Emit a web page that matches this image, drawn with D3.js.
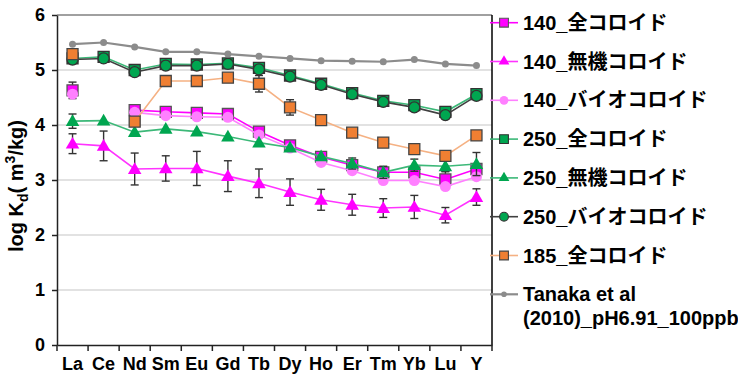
<!DOCTYPE html>
<html>
<head>
<meta charset="utf-8">
<script src="https://cdn.jsdelivr.net/npm/d3@7"></script>
<style>
  body { margin: 0; background: #fff; }
  text { font-family: Arial, "Liberation Sans", "Noto Sans CJK JP", sans-serif; font-weight: bold; }
</style>
</head>
<body>
<div id="chart"></div>
<script>
const elements = ['La', 'Ce', 'Nd', 'Sm', 'Eu', 'Gd', 'Tb', 'Dy', 'Ho', 'Er', 'Tm', 'Yb', 'Lu', 'Y']
const yTicks = [0, 1, 2, 3, 4, 5, 6]

const s140All = [4.63, null, 4.27, 4.24, 4.22, 4.2, 3.88, 3.63, 3.42, 3.27, 3.14, 3.14, 3.01, 3.2]
const s140AllErr = [0.15, 0, 0, 0, 0, 0, 0, 0, 0, 0, 0, 0, 0.15, 0]
const s140Inorg = [3.66, 3.62, 3.2, 3.21, 3.21, 3.07, 2.94, 2.78, 2.64, 2.55, 2.49, 2.51, 2.36, 2.69]
const s140InorgErr = [0.18, 0.27, 0.29, 0.23, 0.31, 0.28, 0.26, 0.24, 0.19, 0.19, 0.17, 0.21, 0.14, 0.15]
const s140Bio = [4.56, null, 4.23, 4.17, 4.15, 4.14, 3.82, 3.58, 3.32, 3.17, 2.99, 2.99, 2.88, 3.06]
const s250All = [5.21, 5.24, 5.0, 5.11, 5.1, 5.12, 5.04, 4.9, 4.75, 4.58, 4.44, 4.36, 4.24, 4.56]
const s250Inorg = [4.07, 4.08, 3.87, 3.93, 3.88, 3.79, 3.68, 3.59, 3.43, 3.3, 3.14, 3.27, 3.25, 3.29]
const s250InorgErr = [0.13, 0, 0, 0, 0, 0, 0, 0, 0, 0.1, 0.11, 0.11, 0.1, 0.21]
const s250Bio = [5.19, 5.21, 4.96, 5.08, 5.08, 5.11, 5.01, 4.88, 4.73, 4.56, 4.42, 4.32, 4.18, 4.53]
const s185All = [5.29, null, 4.06, 4.8, 4.8, 4.86, 4.75, 4.32, 4.09, 3.86, 3.68, 3.56, 3.44, 3.81]
const s185AllErr = [0, 0, 0, 0, 0, 0, 0.15, 0.14, 0, 0, 0, 0, 0, 0]
const tanaka = [5.47, 5.5, 5.42, 5.33, 5.33, 5.29, 5.25, 5.21, 5.17, 5.16, 5.15, 5.19, 5.11, 5.08]

const series = [
  { name: ['140_全コロイド'], values: s140All, err: s140AllErr, shape: 'square', fill: '#ff00ff', stroke: '#555', line: '#ff00ff', size: 11 },
  { name: ['140_無機コロイド'], values: s140Inorg, err: s140InorgErr, shape: 'triangle', fill: '#ff00ff', stroke: 'none', line: '#ff33ff', size: 12 },
  { name: ['140_バイオコロイド'], values: s140Bio, err: null, shape: 'circle', fill: '#ff80ff', stroke: 'none', line: '#ff80ff', size: 11 },
  { name: ['250_全コロイド'], values: s250All, err: null, shape: 'square', fill: '#00a650', stroke: '#333', line: '#3cb878', size: 11 },
  { name: ['250_無機コロイド'], values: s250Inorg, err: s250InorgErr, shape: 'triangle', fill: '#00a650', stroke: 'none', line: '#3cb878', size: 12 },
  { name: ['250_バイオコロイド'], values: s250Bio, err: null, shape: 'circle', fill: '#00a650', stroke: '#333', line: '#404040', size: 11 },
  { name: ['185_全コロイド'], values: s185All, err: s185AllErr, shape: 'square', fill: '#f07f32', stroke: '#444', line: '#f5b183', size: 11 },
  { name: ['Tanaka et al', '(2010)_pH6.91_100ppb'], values: tanaka, err: null, shape: 'circle', fill: '#8c8c8c', stroke: 'none', line: '#8c8c8c', size: 7, lw: 2.2 }
]

const width = 738, height = 383
const mLeft = 57, mRight = 492, mTop = 15, mBottom = 345

const svg = d3.select('#chart').append('svg').attr('width', width).attr('height', height)

const x = d3.scaleBand().domain(elements).range([mLeft, mRight])
const cx = (d) => x(d) + x.bandwidth() / 2
const y = d3.scaleLinear().domain([0, 6]).range([mBottom, mTop])

// gridlines
svg.append('g')
  .selectAll('line')
  .data(yTicks.filter((t) => t > 0 && t < 6))
  .enter()
  .append('line')
  .attr('x1', mLeft).attr('x2', mRight)
  .attr('y1', (d) => y(d)).attr('y2', (d) => y(d))
  .attr('stroke', '#d9d9d9').attr('stroke-width', 1.5)

// frame
svg.append('line').attr('x1', mLeft).attr('x2', mRight).attr('y1', mTop).attr('y2', mTop)
  .attr('stroke', '#808080').attr('stroke-width', 1.5)
svg.append('line').attr('x1', mRight).attr('x2', mRight).attr('y1', mTop).attr('y2', mBottom)
  .attr('stroke', '#000').attr('stroke-width', 1.5)

// y axis
const yAxis = svg.append('g')
  .attr('transform', `translate(${mLeft},0)`)
  .call(d3.axisLeft(y).tickValues(yTicks).tickSize(5).tickFormat(d3.format('d')).tickSizeOuter(0))
yAxis.select('.domain').attr('stroke', '#222').attr('stroke-width', 1.5)
yAxis.selectAll('.tick line').attr('stroke', '#222').attr('stroke-width', 1.5)
yAxis.selectAll('.tick text').attr('x', -12).style('font-size', '18px').style('font-weight', 'bold')
  .attr('fill', '#000').style('font-family', 'Arial, "Liberation Sans", sans-serif')

// x axis: labels at centers, ticks at band edges
const xAxis = svg.append('g')
  .attr('transform', `translate(0,${mBottom})`)
  .call(d3.axisBottom(x).tickSize(0).tickPadding(12).tickSizeOuter(0))
xAxis.select('.domain').attr('stroke', '#222').attr('stroke-width', 1.5)
xAxis.selectAll('.tick text').style('font-size', '18px').style('font-weight', 'bold')
  .attr('fill', '#000').style('font-family', 'Arial, "Liberation Sans", sans-serif')
const edges = elements.map((d) => x(d)).concat([mRight])
svg.append('g')
  .selectAll('line')
  .data(edges)
  .enter()
  .append('line')
  .attr('x1', (d) => d).attr('x2', (d) => d)
  .attr('y1', mBottom).attr('y2', mBottom + 6)
  .attr('stroke', '#222').attr('stroke-width', 1.5)

// y title
const yTitle = svg.append('text')
  .attr('transform', `translate(23,${(mTop + mBottom) / 2 + 6}) rotate(-90)`)
  .attr('text-anchor', 'middle')
  .style('font-size', '20px')
yTitle.append('tspan').text('log K')
yTitle.append('tspan').text('d').attr('dy', 5).style('font-size', '14px')
yTitle.append('tspan').text('( m').attr('dy', -5)
yTitle.append('tspan').text('3').attr('dy', -8).style('font-size', '14px')
yTitle.append('tspan').text('/kg)').attr('dy', 8)

const symbolFor = (s) => {
  if (s.shape === 'square') return d3.symbol().type(d3.symbolSquare).size(s.size * s.size)
  if (s.shape === 'triangle') return d3.symbol().type(d3.symbolTriangle).size(s.size * s.size * 0.55)
  return d3.symbol().type(d3.symbolCircle).size(Math.PI * (s.size / 2) * (s.size / 2))
}

series.forEach((s) => {
  const pts = elements.map((e, i) => ({ e, v: s.values[i], err: s.err ? s.err[i] : 0 }))
  const g = svg.append('g')
  const line = d3.line()
    .defined((d) => d.v !== null)
    .x((d) => cx(d.e))
    .y((d) => y(d.v))
  g.append('path').datum(pts).attr('d', line)
    .attr('fill', 'none').attr('stroke', s.line).attr('stroke-width', s.lw || 1.6)

  const errPts = pts.filter((d) => d.v !== null && d.err > 0)
  const eb = g.selectAll('.eb').data(errPts).enter().append('g').attr('class', 'eb')
  eb.append('line')
    .attr('x1', (d) => cx(d.e)).attr('x2', (d) => cx(d.e))
    .attr('y1', (d) => y(d.v + d.err)).attr('y2', (d) => y(d.v - d.err))
  eb.append('line')
    .attr('x1', (d) => cx(d.e) - 4).attr('x2', (d) => cx(d.e) + 4)
    .attr('y1', (d) => y(d.v + d.err)).attr('y2', (d) => y(d.v + d.err))
  eb.append('line')
    .attr('x1', (d) => cx(d.e) - 4).attr('x2', (d) => cx(d.e) + 4)
    .attr('y1', (d) => y(d.v - d.err)).attr('y2', (d) => y(d.v - d.err))
  eb.selectAll('line').attr('stroke', '#333').attr('stroke-width', 1.4)

  g.selectAll('.mk')
    .data(pts.filter((d) => d.v !== null))
    .enter()
    .append('path')
    .attr('class', 'mk')
    .attr('d', symbolFor(s))
    .attr('transform', (d) => `translate(${cx(d.e)},${y(d.v) + (s.shape === 'triangle' ? 1 : 0)})`)
    .attr('fill', s.fill)
    .attr('stroke', s.stroke)
    .attr('stroke-width', 1.3)
})

// legend
const legend = svg.append('g')
const rowY = d3.scaleLinear().domain([0, 7]).range([22.7, 294.3])
series.forEach((s, i) => {
  const ly = rowY(i)
  const row = legend.append('g')
  row.append('line').attr('x1', 490).attr('x2', 518).attr('y1', ly).attr('y2', ly)
    .attr('stroke', s.line).attr('stroke-width', s.lw || 1.6)
  const small = Object.assign({}, s, { size: s.size * 0.8 })
  row.append('path').attr('d', symbolFor(small))
    .attr('transform', `translate(504,${ly})`)
    .attr('fill', s.fill).attr('stroke', s.stroke).attr('stroke-width', 1.1)
  s.name.forEach((n, j) => {
    row.append('text')
      .attr('x', 523).attr('y', ly + 7 + j * 24)
      .style('font-size', '20px')
      .attr('fill', '#000')
      .text(n)
  })
})
</script>
</body>
</html>
